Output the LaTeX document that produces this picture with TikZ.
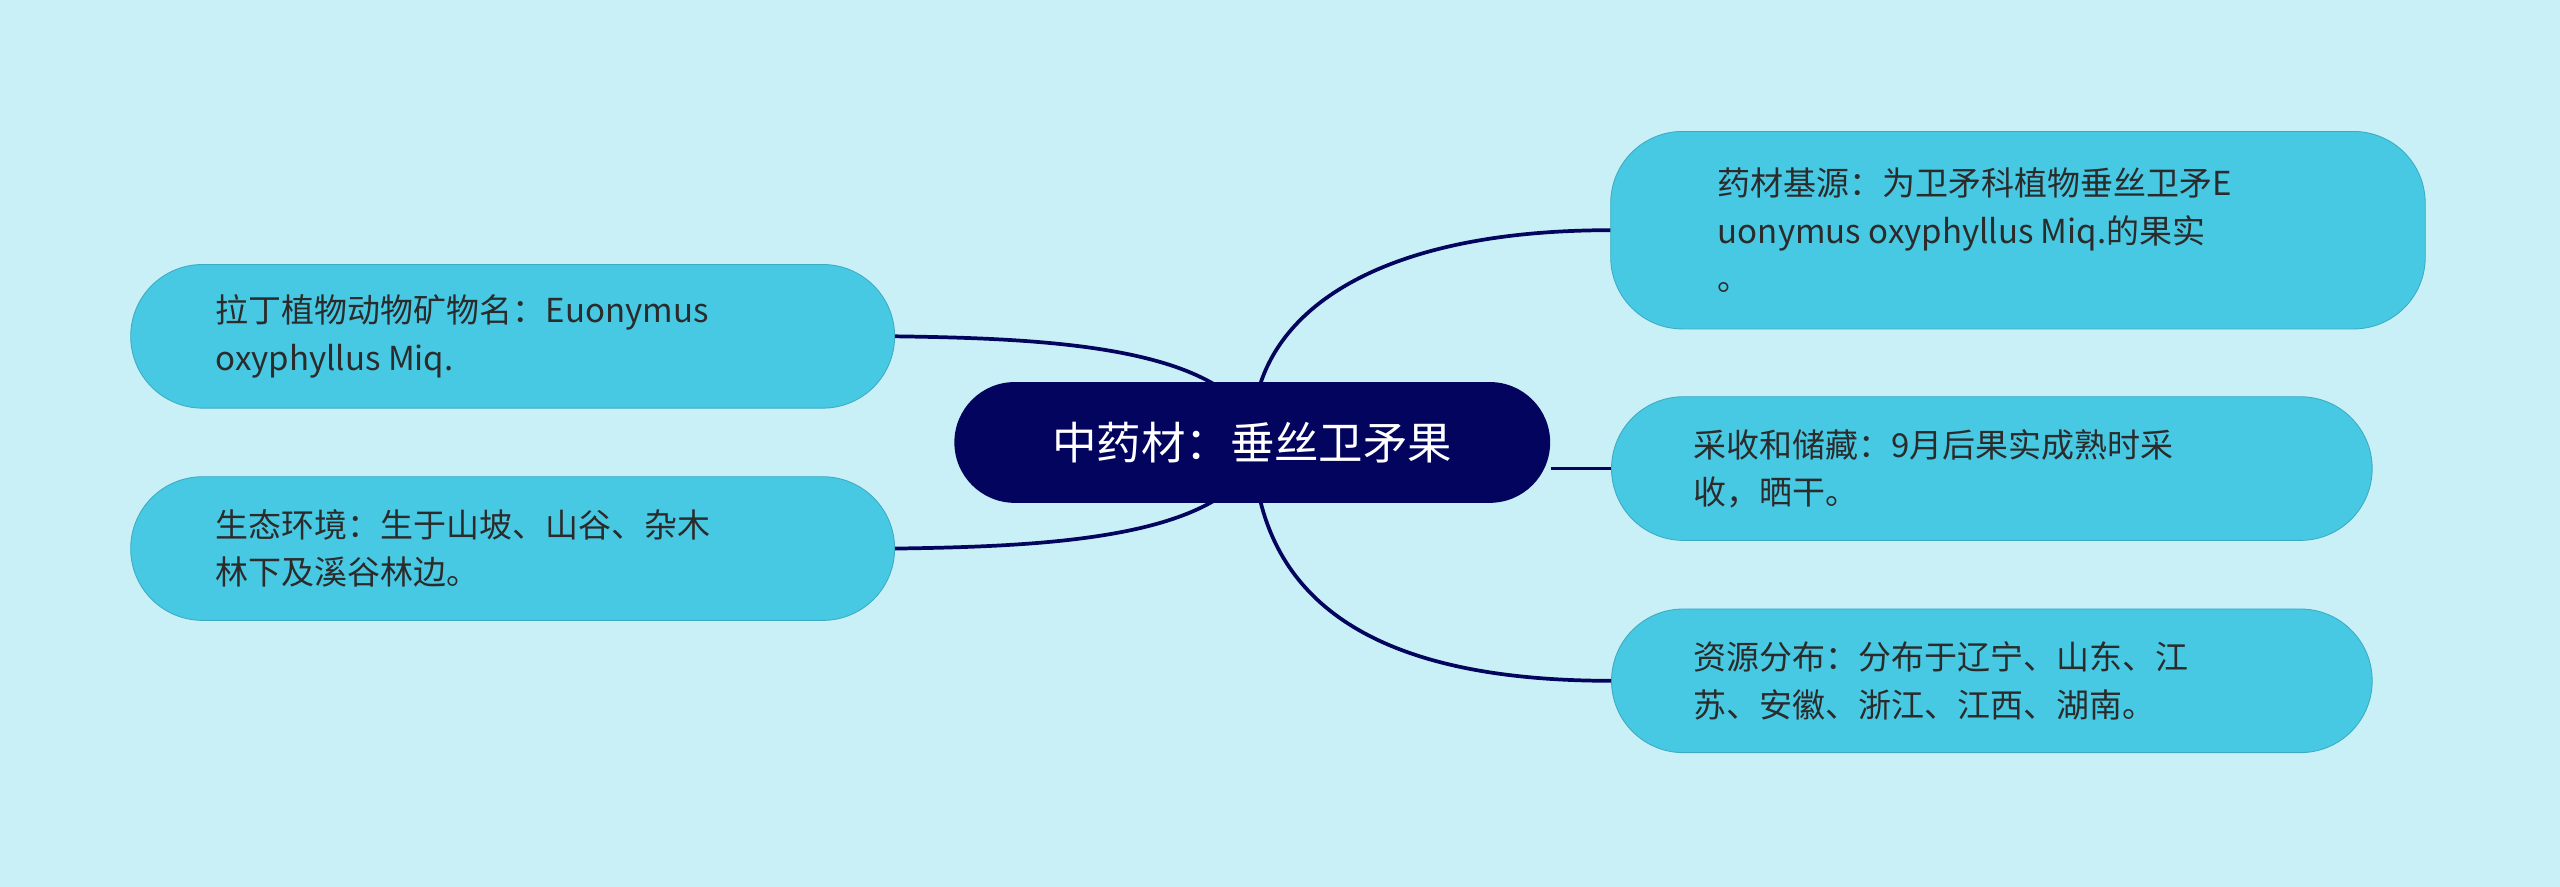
\documentclass[tikz,border=0pt]{standalone}
\usepackage{fontspec}
\setmainfont{Noto Sans CJK SC}
\begin{document}
\begin{tikzpicture}[x=0.02cm,y=-0.02cm]
\definecolor{bg}{HTML}{C9F0F6}
\definecolor{leaf}{HTML}{48C9E3}
\definecolor{navy}{HTML}{03045E}
\definecolor{txt}{HTML}{2B2B2B}
\tikzset{
 leafbox/.style={fill=leaf,draw=leaf!85!black,line width=0.3pt,rounded corners=0.88cm,inner sep=0pt,text=txt,font=\fontsize{11.5}{16.5}\selectfont},
 link/.style={draw=navy,line width=1.3pt}
}
\fill[bg] (0,0) rectangle (1568,543);
\useasboundingbox (0,0) rectangle (1568,543);
\node[fill=navy,rounded corners=0.74cm,minimum width=7.3cm,minimum height=1.48cm,text=white,font=\fontsize{15.5}{18}\selectfont] (c) at (767,271) {中药材：垂丝卫矛果};
\node[leafbox,minimum width=9.36cm,minimum height=1.76cm] (l1) at (314,206) {};
\node[anchor=west,align=left,text=txt,font=\fontsize{11.5}{16.5}\selectfont] at (126,206) {拉丁植物动物矿物名：Euonymus\\oxyphyllus Miq.};
\node[leafbox,minimum width=9.36cm,minimum height=1.76cm] (l2) at (314,336) {};
\node[anchor=west,align=left,text=txt,font=\fontsize{11.5}{16.5}\selectfont] at (126,336) {生态环境：生于山坡、山谷、杂木\\林下及溪谷林边。};
\node[leafbox,minimum width=9.98cm,minimum height=2.42cm] (r1) at (1236,141) {};
\node[anchor=west,align=left,text=txt,font=\fontsize{11.5}{16.5}\selectfont] at (1046,141) {药材基源：为卫矛科植物垂丝卫矛E\\uonymus oxyphyllus Miq.的果实\\。};
\node[leafbox,minimum width=9.32cm,minimum height=1.76cm] (r2) at (1220,287) {};
\node[anchor=west,align=left,text=txt,font=\fontsize{11.5}{16.5}\selectfont] at (1031,287) {采收和储藏：9月后果实成熟时采\\收，晒干。};
\node[leafbox,minimum width=9.32cm,minimum height=1.76cm] (r3) at (1220,417) {};
\node[anchor=west,align=left,text=txt,font=\fontsize{11.5}{16.5}\selectfont] at (1031,417) {资源分布：分布于辽宁、山东、江\\苏、安徽、浙江、江西、湖南。};
\coordinate (cl1) at (743,235);
\coordinate (cl2) at (743,307);
\coordinate (cr1) at (772,235);
\coordinate (cr3) at (772,307);
\draw[link] (cl1) .. controls (700,210) and (620,207) .. (l1.east);
\draw[link] (cl2) .. controls (700,332) and (620,335) .. (l2.east);
\draw[link] (cr1) .. controls (790,180) and (860,141) .. (r1.west);
\draw[link] (c.east |- r2.west) -- (r2.west);
\draw[link] (cr3) .. controls (790,380) and (860,417) .. (r3.west);
\end{tikzpicture}
\end{document}
